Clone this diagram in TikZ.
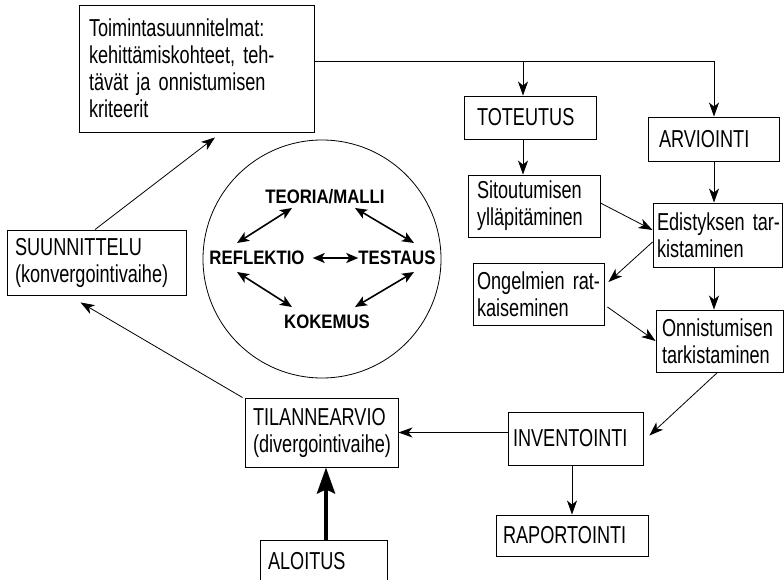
\documentclass[tikz,border=0pt]{standalone}
\usepackage{fontspec}
\setmainfont{Liberation Sans}[FakeStretch=0.74]
\newfontfamily\cyclefont{Liberation Sans}[FakeStretch=0.86]
\usetikzlibrary{arrows.meta}

\begin{document}
\begin{tikzpicture}[
  x=1pt, y=-1pt,
  font=\fontsize{24.5}{27}\selectfont,
  box/.style={draw, line width=0.9pt, align=left, inner ysep=0pt},
  phase/.style={font=\cyclefont\fontsize{19.5}{24}\selectfont\bfseries, inner sep=0pt},
  arr/.style={-{Stealth[length=14pt, width=10pt, inset=4pt]}, line width=0.8pt},
  dbl/.style={{Stealth[length=12pt, width=10pt, inset=3pt]}-{Stealth[length=12pt, width=10pt, inset=3pt]}, line width=1.6pt},
  big/.style={-{Stealth[length=26pt, width=18pt, inset=4pt]}, line width=4pt},
]
\useasboundingbox (0,0) rectangle (784,580);

% ================= planning and action boxes =================
\node[box, text width=215pt, inner xsep=10pt, minimum height=127pt] (plan) at (196.5,68.5)
  {Toimintasuunnitelmat:\\ \mbox{kehittämiskohteet, teh-}\\ tävät ja onnistumisen\\ kriteerit};
\node[box, text width=106pt, inner xsep=13pt, minimum height=43pt] (tot) at (530,117.5) {TOTEUTUS};
\node[box, text width=109pt, inner xsep=11pt, minimum height=44pt] (arv) at (713.5,139) {ARVIOINTI};
\node[box, text width=114pt, inner xsep=9pt, minimum height=62pt] (sit) at (534,206)
  {Sitoutumisen\\ ylläpitäminen};
\node[box, text width=121pt, inner xsep=4pt, minimum height=64pt] (edi) at (717.5,235)
  {\mbox{Edistyksen tar-}\\ kistaminen};
\node[box, text width=123pt, inner xsep=4pt, minimum height=62pt] (ong) at (538.5,294)
  {\mbox{Ongelmien rat-}\\ kaiseminen};
\node[box, text width=115pt, inner xsep=6pt, minimum height=62pt] (onn) at (719.5,341)
  {Onnistumisen\\ tarkistaminen};
\node[box, text width=125pt, inner xsep=5pt, minimum height=53pt] (inv) at (575.5,438.5) {INVENTOINTI};
\node[box, text width=138pt, inner xsep=7pt, minimum height=41pt] (rap) at (572,535.5) {RAPORTOINTI};
\node[box, text width=137pt, inner xsep=8pt, minimum height=69pt] (til) at (321.5,432.5)
  {TILANNEARVIO\\ (divergointivaihe)};
\node[box, text width=163pt, inner xsep=8pt, minimum height=65pt] (suu) at (96.5,262.5)
  {SUUNNITTELU\\ (konvergointivaihe)};
\node[box, text width=111pt, inner xsep=8pt, minimum height=42pt] (alo) at (323.5,561) {ALOITUS};

% ================= learning cycle =================
\node[draw, circle, line width=0.8pt, minimum size=238pt, inner sep=0pt] (ring) at (322,259) {};
\node[phase] (teo) at (325,197) {TEORIA/MALLI};
\node[phase] (ref) at (257,258) {REFLEKTIO};
\node[phase] (tes) at (397,258) {TESTAUS};
\node[phase] (kok) at (327,322) {KOKEMUS};

\draw[dbl] ([xshift=-33pt,yshift=-11pt]teo.center) -- ([xshift=-20pt,yshift=15pt]ref.center);
\draw[dbl] ([xshift=30pt,yshift=-11pt]teo.center) -- ([xshift=17pt,yshift=15pt]tes.center);
\draw[dbl] ([xshift=8pt]ref.east) -- (tes.west);
\draw[dbl] ([xshift=-20pt,yshift=-14pt]ref.center) -- ([xshift=-35pt,yshift=15pt]kok.center);
\draw[dbl] ([xshift=17pt,yshift=-14pt]tes.center) -- ([xshift=28pt,yshift=15pt]kok.center);

% ================= connectors =================
\coordinate (fork) at (523,61);
\coordinate (corner) at (714,61);
\draw[line width=0.8pt] ([yshift=7.5pt]plan.east) -- (corner);
\draw[arr] (fork) -- (fork |- tot.north);
\draw[arr] (corner) -- (corner |- arv.north);
\draw[arr] (tot.south -| fork) -- (sit.north -| fork);
\draw[arr] (arv.south -| corner) -- (edi.north -| corner);
\draw[arr] ([yshift=3pt]sit.east) -- ([yshift=5pt]edi.west);
\draw[arr] ([yshift=-7pt]edi.west) -- ([xshift=4pt,yshift=12pt]ong.east);
\draw[arr] ([xshift=3pt,yshift=-13pt]ong.east) -- (onn.west);
\draw[arr] (edi.south -| corner) -- (onn.north -| corner);
\draw[arr] ([xshift=-2pt]onn.south) -- ([xshift=6pt,yshift=3pt]inv.east);
\draw[arr] (inv.west |- til.east) -- (til.east);
\draw[arr] (inv.south -| rap.north) -- (rap.north);
\draw[big] ([xshift=2.5pt]alo.north) -- ([xshift=2.5pt]alo.north |- til.south);
\draw[arr] ([xshift=-2pt]til.north west) -- ([xshift=-16pt,yshift=-7pt]suu.south);
\draw[arr] ([xshift=-1.5pt]suu.north) -- ([xshift=18.5pt,yshift=-5pt]plan.south);

\end{tikzpicture}
\end{document}
